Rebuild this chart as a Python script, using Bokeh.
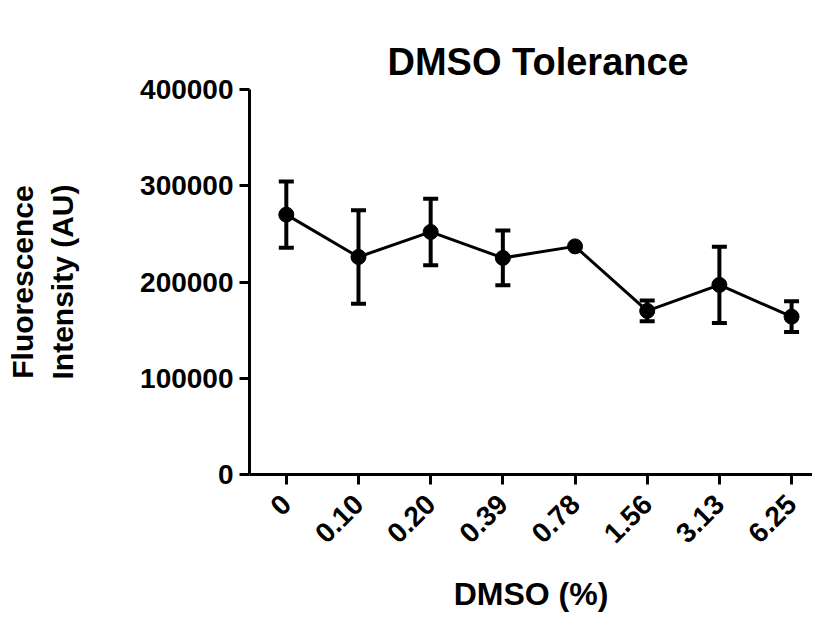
import math
from bokeh.plotting import figure
from bokeh.models import ColumnDataSource, Whisker, TeeHead, FixedTicker, BasicTickFormatter, Range1d
from bokeh.embed import file_html
from bokeh.resources import INLINE

categories = ["0", "0.10", "0.20", "0.39", "0.78", "1.56", "3.13", "6.25"]
means = [270000, 226000, 252000, 225000, 237000, 170000, 197000, 164000]
errors = [34500, 48500, 34600, 28400, 0, 10700, 39500, 16000]

FONT = "Liberation Sans"
xs = list(range(len(categories)))

p = figure(width=812, height=616, output_backend="svg", toolbar_location=None,
           x_range=Range1d(-0.51, 7.29), y_range=Range1d(0, 400000),
           min_border_left=249, min_border_top=89, min_border_bottom=142, min_border_right=0,
           title="DMSO Tolerance")
p.outline_line_color = None
p.xgrid.visible = False
p.ygrid.visible = False

p.title.align = "left"
p.title.offset = 138
p.title.standoff = 10
p.title.vertical_align = "top"
p.title.text_font = FONT
p.title.text_font_size = "38px"
p.title.text_font_style = "bold"
p.title.text_color = "black"

src = ColumnDataSource(dict(x=xs, y=means))
eb = [(x, m, e) for x, m, e in zip(xs, means, errors) if e > 0]
esrc = ColumnDataSource(dict(x=[a[0] for a in eb],
                             upper=[a[1] + a[2] for a in eb],
                             lower=[a[1] - a[2] for a in eb]))

w = Whisker(base="x", upper="upper", lower="lower", source=esrc, line_width=4, line_color="black",
            upper_head=TeeHead(size=15, line_width=4, line_color="black"),
            lower_head=TeeHead(size=15, line_width=4, line_color="black"))
p.add_layout(w)

p.line("x", "y", source=src, line_width=3, line_color="black")
p.scatter("x", "y", source=src, size=15, color="black")

for ax in (p.xaxis[0], p.yaxis[0]):
    ax.axis_line_width = 3
    ax.axis_line_color = "black"
    ax.major_tick_line_width = 3
    ax.major_tick_line_color = "black"
    ax.major_tick_out = 10
    ax.major_tick_in = 0
    ax.minor_tick_line_color = None
    ax.major_label_text_font = FONT
    ax.major_label_text_font_style = "bold"
    ax.major_label_text_font_size = "28px"
    ax.major_label_text_color = "black"
    ax.axis_label_text_font = FONT
    ax.axis_label_text_font_style = "bold"
    ax.axis_label_text_color = "black"

p.xaxis.ticker = FixedTicker(ticks=xs)
p.xaxis.major_label_overrides = {i: c for i, c in enumerate(categories)}
p.xaxis.major_label_orientation = math.pi / 4
p.xaxis.major_label_standoff = 15
p.xaxis.axis_label = "DMSO (%)"
p.xaxis.axis_label_text_font_size = "32px"
p.xaxis.axis_label_standoff = 22

p.yaxis.ticker = FixedTicker(ticks=[0, 100000, 200000, 300000, 400000])
p.yaxis.formatter = BasicTickFormatter(use_scientific=False)
p.yaxis.major_label_standoff = 6
p.yaxis.axis_label = "Fluorescence\nIntensity (AU)"
p.yaxis.axis_label_text_font_size = "30px"
p.yaxis.axis_label_standoff = 58

open("out.html", "w").write(file_html(p, INLINE))
